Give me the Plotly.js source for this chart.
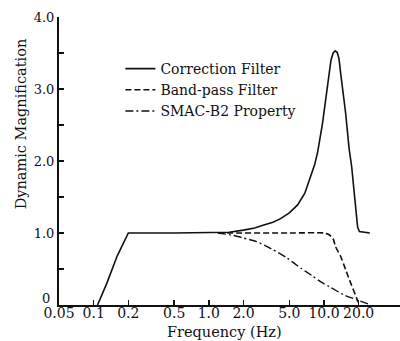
<!DOCTYPE html>
<html>
<head>
<meta charset="utf-8">
<script src="https://cdn.plot.ly/plotly-3.0.1.min.js"></script>
<style>html,body{margin:0;padding:0;background:#fff;}#chart{width:400px;height:341px;}</style>
</head>
<body>
<div id="chart"></div>
<script>
// Correction Filter
const corrFreq = [0.108, 0.13, 0.16, 0.2, 0.5, 1.0, 1.5, 2.0, 2.5, 3.0, 3.6, 4.2, 5.0, 5.9, 6.8, 7.7, 8.3, 8.8, 9.3, 9.7, 10.2, 10.7, 11.1, 11.5, 12.0, 12.5, 13.0, 13.5, 14.0, 15.4, 16.5, 17.4, 18.2, 19.0, 19.6, 20.3, 25.0];
const corrVal  = [0, 0.3, 0.68, 1.0, 1.0, 1.0, 1.01, 1.04, 1.07, 1.11, 1.15, 1.2, 1.28, 1.39, 1.55, 1.8, 1.95, 2.12, 2.32, 2.52, 2.78, 3.05, 3.25, 3.4, 3.5, 3.53, 3.51, 3.42, 3.2, 2.67, 2.18, 1.92, 1.6, 1.25, 1.08, 1.02, 1.0];
// Band-pass Filter
const bpFreq = [1.2, 5.0, 10.0, 11.0, 12.0, 12.6, 14.0, 15.5, 17.1, 19.5, 20.3];
const bpVal  = [1.0, 1.0, 1.0, 0.98, 0.92, 0.81, 0.67, 0.48, 0.30, 0.07, 0.0];
// SMAC-B2 Property
const smFreq = [1.2, 1.6, 2.0, 2.6, 3.5, 4.8, 6.3, 8.0, 9.4, 11.0, 14.9, 19.5, 24.5];
const smVal  = [1.0, 0.97, 0.93, 0.88, 0.78, 0.65, 0.51, 0.40, 0.32, 0.26, 0.14, 0.07, 0.01];

const seriesNames = ["Correction Filter", "Band-pass Filter", "SMAC-B2 Property"];
const xTickVals = [0.05, 0.1, 0.2, 0.5, 1, 2, 5, 10, 20];
const xTickText = ["0.05", "0.1", "0.2", "0.5", "1.0", "2.0", "5.0", "10.0", "20.0"];
const yTickVals = [0, 0.5, 1, 1.5, 2, 2.5, 3, 3.5, 4];
const yTickText = ["", "", "1.0", "", "2.0", "", "3.0", "", "4.0"];
const yZeroLabel = "0";
const xTitle = "Frequency (Hz)";
const yTitle = "Dynamic Magnification";

const FONT = "DejaVu Serif, Liberation Serif, serif";
const ink = "#111";

const traces = [
  {x: corrFreq, y: corrVal, name: seriesNames[0], mode: "lines", line: {color: ink, width: 1.6, dash: "solid"}},
  {x: bpFreq, y: bpVal, name: seriesNames[1], mode: "lines", line: {color: ink, width: 1.6, dash: "6px,3px", shape: "spline", smoothing: 0.6}},
  {x: smFreq, y: smVal, name: seriesNames[2], mode: "lines", line: {color: ink, width: 1.4, dash: "8px,3px,2px,3px", shape: "spline", smoothing: 0.6}}
];

const layout = {
  width: 400, height: 341,
  margin: {l: 59, r: 0, t: 17, b: 36},
  paper_bgcolor: "#fff", plot_bgcolor: "#fff",
  font: {family: FONT, color: ink, size: 14},
  showlegend: true,
  legend: {x: 0.18, xanchor: "left", y: 0.875, yanchor: "top", bgcolor: "rgba(0,0,0,0)", borderwidth: 0,
           font: {family: FONT, size: 14, color: ink}, tracegroupgap: 0},
  xaxis: {
    type: "log", range: [Math.log10(0.05), 1.66],
    tickmode: "array", tickvals: xTickVals, ticktext: xTickText,
    ticks: "inside", ticklen: 5, tickwidth: 1.5, tickcolor: ink,
    ticklabelstandoff: -6,
    showline: true, linecolor: ink, linewidth: 2, showgrid: false, zeroline: false,
    tickfont: {family: FONT, size: 14, color: ink},
    fixedrange: true
  },
  yaxis: {
    range: [0, 4],
    tickmode: "array", tickvals: yTickVals, ticktext: yTickText,
    ticks: "inside", ticklen: 5, tickwidth: 1.5, tickcolor: ink,
    showline: true, linecolor: ink, linewidth: 2, showgrid: false, zeroline: false,
    tickfont: {family: FONT, size: 13, color: ink},
    fixedrange: true
  },
  annotations: [
    {text: yTitle, xref: "paper", yref: "paper", x: -0.112, y: 0.63,
     xanchor: "center", yanchor: "middle", textangle: -90, showarrow: false,
     font: {family: FONT, size: 14.5, color: ink}},
    {text: xTitle, xref: "paper", yref: "paper", x: 0.485, y: -0.094,
     xanchor: "center", yanchor: "middle", showarrow: false, borderpad: 0,
     font: {family: FONT, size: 14.5, color: ink}},
    {text: yZeroLabel, xref: "paper", yref: "y", x: -0.02, y: 0,
     xanchor: "right", yanchor: "bottom", showarrow: false, yshift: -3,
     font: {family: FONT, size: 13, color: ink}}
  ]
};

Plotly.newPlot("chart", traces, layout, {displayModeBar: false, staticPlot: true});
</script>
</body>
</html>
